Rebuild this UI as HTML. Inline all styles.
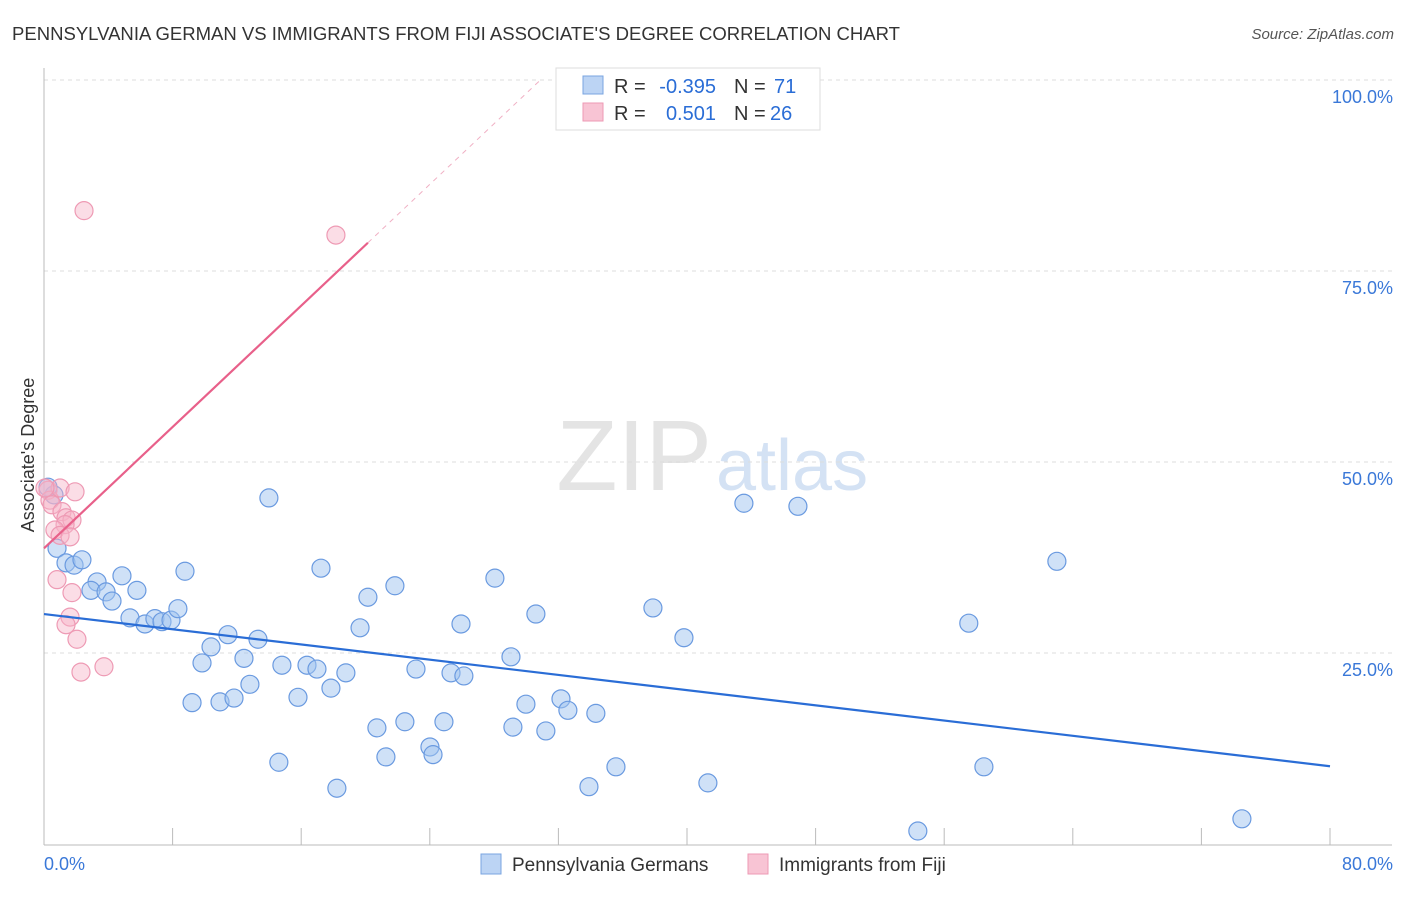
<!DOCTYPE html>
<html><head><meta charset="utf-8"><style>
body{margin:0;background:#fff;font-family:"Liberation Sans",sans-serif;}
svg text{font-family:"Liberation Sans",sans-serif;}
</style></head><body>
<svg id="chart" width="1406" height="892" xmlns="http://www.w3.org/2000/svg">
<text x="12" y="40" font-size="18" fill="#333" textLength="888" lengthAdjust="spacingAndGlyphs">PENNSYLVANIA GERMAN VS IMMIGRANTS FROM FIJI ASSOCIATE'S DEGREE CORRELATION CHART</text>
<text x="1394" y="39" font-size="15" fill="#555" font-style="italic" text-anchor="end">Source: ZipAtlas.com</text>
<text x="712" y="490" font-size="100" fill="#e4e4e4" font-family="Liberation Serif" text-anchor="end">ZIP</text>
<text x="716" y="490" font-size="72" fill="#d4e2f4">atlas</text>
<text transform="translate(34,455) rotate(-90)" font-size="18" fill="#333" text-anchor="middle">Associate's Degree</text>
<g id="grid"></g><g id="marks"></g>
<g>
<rect x="556" y="68" width="264" height="62" fill="#fff" stroke="#ddd"/>
<rect x="583" y="76" width="20" height="18" fill="#bcd4f4" stroke="#7aa4e0"/>
<rect x="583" y="103" width="20" height="18" fill="#f8c4d4" stroke="#ee9ab4"/>
<text x="614" y="93" font-size="20" fill="#333">R =</text>
<text x="716" y="93" font-size="20" fill="#2a6dd6" text-anchor="end">-0.395</text>
<text x="734" y="93" font-size="20" fill="#333">N =</text>
<text x="774" y="93" font-size="20" fill="#2a6dd6">71</text>
<text x="614" y="120" font-size="20" fill="#333">R =</text>
<text x="716" y="120" font-size="20" fill="#2a6dd6" text-anchor="end">0.501</text>
<text x="734" y="120" font-size="20" fill="#333">N =</text>
<text x="770" y="120" font-size="20" fill="#2a6dd6">26</text>
</g>
<g>
<rect x="481" y="854" width="20" height="20" fill="#bcd4f4" stroke="#7aa4e0"/>
<text x="512" y="871" font-size="19" fill="#333">Pennsylvania Germans</text>
<rect x="748" y="854" width="20" height="20" fill="#f8c4d4" stroke="#ee9ab4"/>
<text x="779" y="871" font-size="19" fill="#333">Immigrants from Fiji</text>
</g>
</svg>
<script>
const blueX=[0.81,0.62,0.25,1.37,1.87,2.36,3.30,2.92,3.86,4.23,4.85,5.78,5.35,6.28,6.90,7.34,7.90,8.33,8.77,9.21,9.83,10.39,10.95,11.44,11.82,12.44,12.81,13.31,13.99,14.61,14.80,15.80,16.36,16.98,17.23,17.85,18.22,18.78,19.66,20.15,20.71,21.27,21.83,22.45,23.14,24.01,24.20,24.88,25.32,25.94,26.12,28.05,29.05,29.17,29.98,30.60,31.22,32.16,32.59,33.90,34.33,35.58,37.88,39.81,41.30,43.54,46.90,54.36,57.53,58.47,63.01,74.52];
const blueY=[38.7,45.7,46.7,36.8,36.5,37.2,34.3,33.2,33.0,31.8,35.1,33.2,29.6,28.8,29.5,29.1,29.3,30.8,35.7,18.5,23.7,25.8,18.6,27.4,19.1,24.3,20.9,26.8,45.3,10.7,23.4,19.2,23.4,22.9,36.1,20.4,7.3,22.4,28.3,32.3,15.2,11.4,33.8,16.0,22.9,12.7,11.7,16.0,22.4,28.8,22.0,34.8,24.5,15.3,18.3,30.1,14.8,19.0,17.5,7.5,17.1,10.1,30.9,27.0,8.0,44.6,44.2,1.7,28.9,10.1,37.0,3.3];
const pinkX=[2.49,18.16,0.25,0.37,1.00,1.93,0.50,1.12,1.37,1.74,1.31,0.68,1.00,1.62,0.81,1.74,1.62,1.37,2.05,2.30,3.73,0.06];
const pinkY=[82.9,79.7,46.3,45.0,46.6,46.1,44.4,43.5,42.7,42.4,41.8,41.1,40.4,40.2,34.6,32.9,29.7,28.7,26.8,22.5,23.2,46.6];
const blueTrend=[30.1,-0.249];
const pinkTrend=[38.7,1.985];
const yTicks=[25,50,75,100];
const yTickLabels=["25.0%","50.0%","75.0%","100.0%"];
const xTicks=[0,8,16,24,32,40,48,56,64,72,80];

const NS="http://www.w3.org/2000/svg";
const sx=v=>44+v*(1286/80);
const sy=v=>844-v*7.64;
function mk(tag,attrs,parent){const e=document.createElementNS(NS,tag);for(const k in attrs)e.setAttribute(k,attrs[k]);parent.appendChild(e);return e;}
const grid=document.getElementById('grid'),marks=document.getElementById('marks');
yTicks.forEach((t,i)=>{
 const l=mk('line',{x1:44,x2:1392,y1:sy(t),y2:sy(t),stroke:'#ddd','stroke-dasharray':'4,4'},grid);
 
 
 const tx=mk('text',{x:1393,y:sy(t)+23,'font-size':18,fill:'#3a78d8','text-anchor':'end'},grid);
 tx.textContent=yTickLabels[i];
 
 
});
const ax=mk('line',{x1:44,x2:44,y1:68,y2:845,stroke:'#bbb'},grid);


const bx=mk('line',{x1:44,x2:1392,y1:845,y2:845,stroke:'#bbb'},grid);


xTicks.forEach(t=>{
 const l=mk('line',{x1:sx(t),x2:sx(t),y1:828,y2:845,stroke:'#bbb'},grid);
 
 
});
const xl0=mk('text',{x:44,y:870,'font-size':18,fill:'#3a78d8'},grid);xl0.textContent='0.0%';


const xl1=mk('text',{x:1393,y:870,'font-size':18,fill:'#3a78d8','text-anchor':'end'},grid);xl1.textContent='80.0%';



blueX.forEach((x,i)=>{
 const c=mk('circle',{cx:sx(x),cy:sy(blueY[i]),r:9,fill:'rgba(160,196,240,0.5)',stroke:'#6a9ae0','stroke-width':1.2},marks);
 
 
});
pinkX.forEach((x,i)=>{
 const c=mk('circle',{cx:sx(x),cy:sy(pinkY[i]),r:9,fill:'rgba(246,180,200,0.45)',stroke:'#ee9ab4','stroke-width':1.2},marks);
 
 
});
const bl=mk('line',{x1:sx(0),y1:sy(blueTrend[0]),x2:sx(80),y2:sy(blueTrend[0]+blueTrend[1]*80),stroke:'#2a6dd6','stroke-width':2.2},marks);


const xe=20.15, xd=(100-pinkTrend[0])/pinkTrend[1];
const pl=mk('line',{x1:sx(0),y1:sy(pinkTrend[0]),x2:sx(xe),y2:sy(pinkTrend[0]+pinkTrend[1]*xe),stroke:'#e8608a','stroke-width':2.2},marks);


const pd=mk('line',{x1:sx(xe),y1:sy(pinkTrend[0]+pinkTrend[1]*xe),x2:sx(xd),y2:sy(100),stroke:'#f0b0c4','stroke-width':1,'stroke-dasharray':'5,5'},marks);


</script>
</body></html>
